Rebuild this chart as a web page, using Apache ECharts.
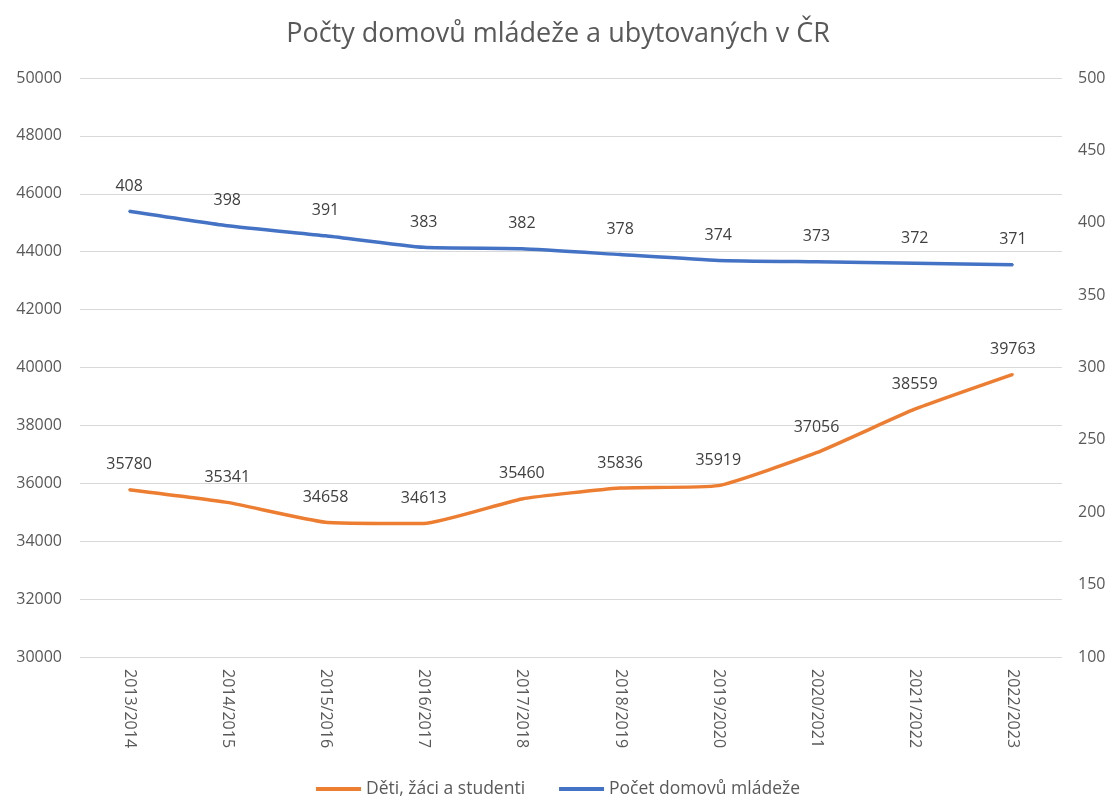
<!DOCTYPE html>
<html>
<head>
<meta charset="utf-8">
<script src="https://cdn.jsdelivr.net/npm/echarts@6/dist/echarts.min.js"></script>
<style>
html,body{margin:0;padding:0;background:#fff;}
#chart{width:1116px;height:800px;}
</style>
</head>
<body>
<div id="chart"></div>
<script>
const categories = ['2013/2014','2014/2015','2015/2016','2016/2017','2017/2018','2018/2019','2019/2020','2020/2021','2021/2022','2022/2023'];
const studentsName = 'Děti, žáci a studenti';
const studentsValues = [35780, 35341, 34658, 34613, 35460, 35836, 35919, 37056, 38559, 39763];
const dormsName = 'Počet domovů mládeže';
const dormsValues = [408, 398, 391, 383, 382, 378, 374, 373, 372, 371];
const titleText = 'Počty domovů mládeže a ubytovaných v ČR';

const FONT = '"Open Sans", "Noto Sans", sans-serif';
const chart = echarts.init(document.getElementById('chart'), null, {renderer:'canvas'});
chart.setOption({
  animation: false,
  backgroundColor: '#ffffff',
  title: {
    text: titleText,
    left: 'center',
    top: 16,
    textStyle: {fontFamily: FONT, fontSize: 27, fontWeight: 'normal', color: '#595959'}
  },
  legend: {
    bottom: -3,
    left: 'center',
    itemGap: 34,
    itemWidth: 45,
    itemHeight: 4,
    icon: 'rect',
    textStyle: {fontFamily: FONT, fontSize: 17.5, color: '#595959'},
    data: [studentsName, dormsName]
  },
  grid: {left: 80, right: 54, top: 78, bottom: 143, containLabel: false},
  xAxis: {
    type: 'category',
    data: categories,
    boundaryGap: true,
    axisLine: {show: false},
    axisTick: {show: false},
    axisLabel: {rotate: -90, margin: 12, fontFamily: FONT, fontSize: 16, color: '#595959'}
  },
  yAxis: [
    {
      type: 'value', min: 30000, max: 50000, interval: 2000, position: 'left',
      axisLine: {show: false}, axisTick: {show: false},
      splitLine: {lineStyle: {color: '#d9d9d9', width: 1}},
      axisLabel: {fontFamily: FONT, fontSize: 16, color: '#595959', margin: 18, formatter: v => String(v)}
    },
    {
      type: 'value', min: 100, max: 500, interval: 50, position: 'right',
      axisLine: {show: false}, axisTick: {show: false},
      splitLine: {show: false},
      axisLabel: {fontFamily: FONT, fontSize: 16, color: '#595959', margin: 16}
    }
  ],
  series: [
    {
      name: studentsName, type: 'line', yAxisIndex: 0, data: studentsValues,
      symbol: 'circle', symbolSize: 2, showSymbol: true, smooth: 0.15,
      lineStyle: {color: '#ED7D31', width: 3.5},
      itemStyle: {color: '#ED7D31'},
      label: {show: true, position: 'top', distance: 16, fontFamily: FONT, fontSize: 16, color: '#404040', formatter: p => String(p.value)}
    },
    {
      name: dormsName, type: 'line', yAxisIndex: 1, data: dormsValues,
      symbol: 'circle', symbolSize: 2, showSymbol: true, smooth: 0.15,
      lineStyle: {color: '#4472C4', width: 3.5},
      itemStyle: {color: '#4472C4'},
      label: {show: true, position: 'top', distance: 16, fontFamily: FONT, fontSize: 16, color: '#404040', formatter: p => String(p.value)}
    }
  ]
});
</script>
</body>
</html>
